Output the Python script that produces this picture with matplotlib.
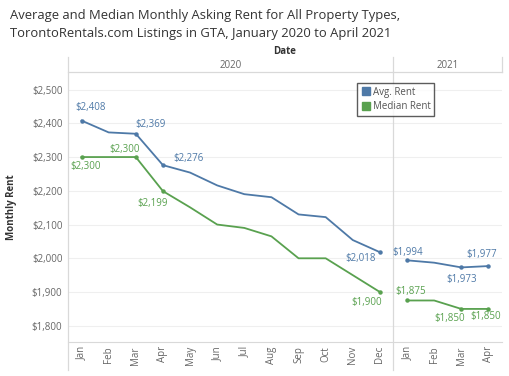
import matplotlib
matplotlib.use("Agg")
import matplotlib.pyplot as plt
from matplotlib.lines import Line2D

plt.rcParams['font.family'] = ['Open Sans', 'DejaVu Sans']

months = ["Jan", "Feb", "Mar", "Apr", "May", "Jun", "Jul", "Aug", "Sep", "Oct", "Nov", "Dec",
          "Jan", "Feb", "Mar", "Apr"]
years = ["2020", "2021"]
avg_rent = [2408, 2373, 2369, 2276, 2254, 2216, 2190, 2181, 2130, 2122, 2054, 2018,
            1994, 1987, 1973, 1977]
median_rent = [2300, 2300, 2300, 2199, 2151, 2100, 2090, 2065, 2000, 2000, 1950, 1900,
               1875, 1875, 1850, 1850]
yticks = [1800, 1900, 2000, 2100, 2200, 2300, 2400, 2500]

# labelled points: index -> offset in pixels (dx, dy)
avg_labels = {0: (9, 13), 2: (15, 9), 3: (26, 7), 11: (-19, -6), 12: (1, 8), 14: (0, -12), 15: (-7, 12)}
med_labels = {0: (4, -9), 2: (-11, 8), 3: (-10, -12), 11: (-13, -10), 12: (4, 9), 14: (-12, -10), 15: (-3, -8)}

blue = "#4e79a7"
green = "#59a14f"
grey = "#666666"

fig = plt.figure(figsize=(5.10, 3.76), dpi=100)
ax = fig.add_axes([68/510, 1-342/376, 434/510, 270/376])
n2020 = 12
x = list(range(len(months)))

ax.plot(x[:n2020], avg_rent[:n2020], color=blue, lw=1.3, zorder=3)
ax.plot(x[n2020:], avg_rent[n2020:], color=blue, lw=1.3, zorder=3)
ax.plot(x[:n2020], median_rent[:n2020], color=green, lw=1.3, zorder=3)
ax.plot(x[n2020:], median_rent[n2020:], color=green, lw=1.3, zorder=3)

for series, labels, col in ((avg_rent, avg_labels, blue), (median_rent, med_labels, green)):
    for i, (dx, dy) in labels.items():
        ax.plot(x[i], series[i], 'o', color=col, ms=2.2, zorder=4)
        ax.annotate(f"${series[i]:,}", (x[i], series[i]), xytext=(dx, dy),
                    textcoords='offset pixels', ha='center', va='center',
                    fontsize=7, color=col)

ax.set_xlim(-0.5, len(months) - 0.5)
ax.set_ylim(1752, 2552)
ax.set_yticks(yticks)
ax.set_yticklabels([f"${v:,}" for v in yticks])
ax.set_xticks(x)
ax.set_xticklabels(months, rotation=90)
ax.tick_params(axis='both', length=0, labelsize=7, labelcolor=grey)
ax.tick_params(axis='x', pad=3)
ax.tick_params(axis='y', pad=4)
ax.grid(axis='y', color='#efefef', lw=0.8)
ax.set_axisbelow(True)
for s in ('top', 'right'):
    ax.spines[s].set_visible(False)
ax.spines['bottom'].set_color('#d9d9d9')
ax.spines['left'].set_visible(False)

# vertical dividers
for xv in (-0.5, n2020 - 0.5):
    ax.axvline(xv, ymin=-0.104, ymax=1.056, color='#d9d9d9', lw=0.9, clip_on=False, zorder=1)
ax.axvline(len(months) - 0.5, ymin=1.0, ymax=1.056, color='#d9d9d9', lw=0.9, clip_on=False)
ax.axhline(2552, color='#d9d9d9', lw=0.9, clip_on=False)

# year header
fig.text(231/510, 1-65/376, years[0], ha='center', va='center', fontsize=7, color=grey)
fig.text(448/510, 1-65/376, years[1], ha='center', va='center', fontsize=7, color=grey)
fig.text(285/510, 1-52/376, "Date", ha='center', va='center', fontsize=7, fontweight='bold', color='#333333')

ax.set_ylabel("Monthly Rent", fontsize=7, fontweight='bold', color='#333333', labelpad=8)
ax.yaxis.set_label_coords((17 - 68) / 434, 0.5)

fig.text(10/510, 1-15/376, "Average and Median Monthly Asking Rent for All Property Types,",
         ha='left', va='center', fontsize=9.4, color='#333333')
fig.text(10/510, 1-34/376, "TorontoRentals.com Listings in GTA, January 2020 to April 2021",
         ha='left', va='center', fontsize=9.4, color='#333333')

handles = [Line2D([], [], marker='s', ls='', color=blue, ms=6),
           Line2D([], [], marker='s', ls='', color=green, ms=6)]
leg = fig.legend(handles, ["Avg. Rent", "Median Rent"], loc='upper left',
                 bbox_to_anchor=(357/510, 1-83/376), fontsize=7, frameon=True,
                 fancybox=False, edgecolor='#333333', handletextpad=0.2,
                 borderpad=0.4, labelspacing=0.35, handlelength=1.0, borderaxespad=0)
for t in leg.get_texts():
    t.set_color('#555555')
leg.get_frame().set_linewidth(1.0)

fig.savefig("out.png", dpi=100)
